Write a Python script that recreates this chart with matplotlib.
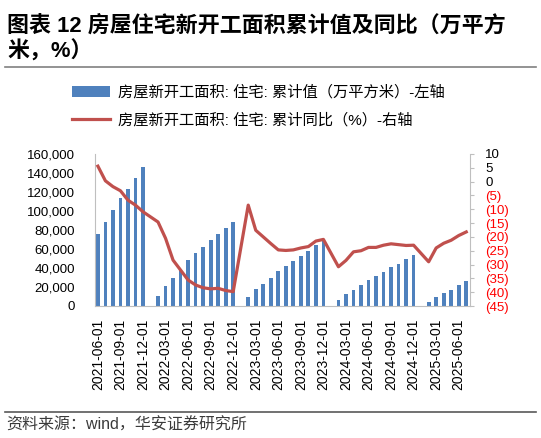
import numpy as np
import pandas as pd
import matplotlib
matplotlib.use("Agg")
import matplotlib.pyplot as plt
from matplotlib.lines import Line2D
from matplotlib.ticker import FuncFormatter, MultipleLocator

plt.rcParams['font.family'] = ['Liberation Sans', 'Noto Sans CJK SC', 'DejaVu Sans']

# monthly categories, Jan has no own release (merged into Jan-Feb)
months = pd.date_range('2021-06-01', '2025-07-01', freq='MS')

# cumulative residential new starts (10k sqm), nan = January
cum_area = [
    75300, 88600, 100800, 113400, 123200, 134800, 146700,
    np.nan, 10900, 21500, 29100, 38000, 48700, 56000, 62300, 69300, 76000, 81600, 87900,
    np.nan, 9500, 17800, 23100, 29400, 36400, 41700, 46900, 52400, 58100, 63700, 69700,
    np.nan, 6700, 12300, 16800, 21700, 27700, 31500, 35700, 40600, 44500, 49000, 53900,
    np.nan, 4700, 9450, 13300, 17300, 22400, 25900,
]
# cumulative YoY (%)
cum_yoy = [
    5.6, 0.3, -1.8, -3.3, -6.7, -8.5, -10.9,
    np.nan, -14.6, -20.5, -28.4, -32.0, -35.6, -37.4, -38.4, -38.8, -38.6, -39.4, -39.8,
    np.nan, -8.5, -17.6, -20.0, -22.4, -24.7, -24.9, -24.7, -24.0, -23.5, -21.5, -20.9,
    np.nan, -30.8, -28.5, -25.4, -25.0, -23.8, -23.8, -23.0, -22.5, -22.8, -23.1, -23.0,
    np.nan, -29.0, -24.0, -22.3, -21.2, -19.5, -18.2,
]
tick_labels = [m.strftime('%Y-%m-%d') for m in months]

bar_label = '房屋新开工面积: 住宅: 累计值（万平方米）-左轴'
line_label = '房屋新开工面积: 住宅: 累计同比（%）-右轴'
title = '图表 12 房屋住宅新开工面积累计值及同比（万平方\n米，%）'
source = '资料来源：wind，华安证券研究所'

BLUE = '#4F81BD'
RED = '#C0504D'
GRID = '#BFBFBF'

W, H = 541, 438
fig = plt.figure(figsize=(W / 100, H / 100), dpi=100)
ax = fig.add_axes([94.5 / W, 1 - 306 / H, (470 - 94.5) / W, (306 - 154) / H])
ax2 = ax.twinx()

x = np.arange(len(months))
area = np.array(cum_area, dtype=float)
yoy = np.array(cum_yoy, dtype=float)

bars = ax.bar(x, area, width=0.5, color=BLUE, label=bar_label, zorder=2)
ok = ~np.isnan(yoy)
line, = ax2.plot(x[ok], yoy[ok], color=RED, lw=2.3, label=line_label, zorder=3)

# left axis
ax.set_xlim(-0.45, len(months) - 0.5)
ax.set_ylim(0, 160000)
ax.yaxis.set_major_locator(MultipleLocator(20000))
ax.yaxis.set_major_formatter(FuncFormatter(lambda v, p: f'{int(v):,}'))
ax.tick_params(axis='y', length=0, pad=14, labelsize=9.5)
ax.set_xticks(x[::3])
ax.set_xticklabels(tick_labels[::3], rotation=90, fontsize=10)
ax.tick_params(axis='x', length=0, pad=9)
for s in ['top', 'right']:
    ax.spines[s].set_visible(False)
ax.spines['left'].set_color(GRID)
ax.spines['bottom'].set_color(GRID)

# right axis, negatives in red with brackets
ax2.set_ylim(-45, 10)
ax2.yaxis.set_major_locator(MultipleLocator(5))


def paren(v, p):
    v = int(round(v))
    return f'({-v})' if v < 0 else str(v)


ax2.yaxis.set_major_formatter(FuncFormatter(paren))
ax2.tick_params(axis='y', length=3, color=GRID, pad=8, labelsize=9.5)
for s in ['top', 'left', 'bottom']:
    ax2.spines[s].set_visible(False)
ax2.spines['right'].set_color(GRID)
fig.canvas.draw()
for val, t in zip(ax2.get_yticks(), ax2.get_yticklabels()):
    t.set_color('red' if val < 0 else 'black')

# title, legend, source
fig.text(7 / W, 1 - 15 / H, title, fontsize=15.8, fontweight='bold',
         va='top', ha='left', linespacing=1.25)
fig.add_artist(Line2D([5 / W, 536 / W], [1 - 67 / H] * 2, color='#808080', lw=1.2))

fig.legend(handles=[bars, line], loc='upper left',
           bbox_to_anchor=(72 / W, 1 - 85 / H), frameon=False,
           fontsize=11, borderpad=0, borderaxespad=0,
           handlelength=2.5, handletextpad=0.5, labelspacing=0.85)

fig.add_artist(Line2D([5 / W, 536 / W], [1 - 412 / H] * 2, color='#595959', lw=1.2))
fig.text(6 / W, 1 - 425 / H, source, fontsize=11.5, color='#3a3a3a',
         va='center', ha='left')

fig.savefig('out.png', dpi=100)
